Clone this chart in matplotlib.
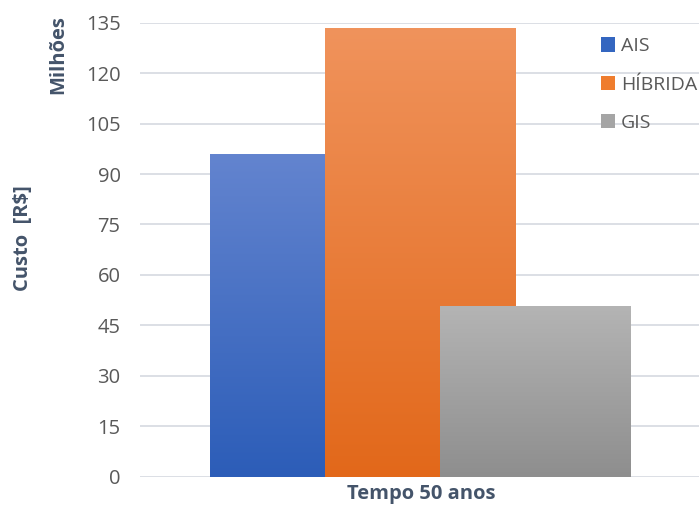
import matplotlib
matplotlib.use("Agg")
import matplotlib.pyplot as plt
import numpy as np
from matplotlib.colors import LinearSegmentedColormap
from matplotlib.patches import Patch

series = ["AIS", "HÍBRIDA", "GIS"]
values = [96.0, 133.3, 50.8]
category = "Tempo 50 anos"
yticks = [0, 15, 30, 45, 60, 75, 90, 105, 120, 135]

top_colors = ["#6384cf", "#f0935c", "#b4b4b4"]
bottom_colors = ["#2c5db8", "#e2681a", "#8e8e8e"]
legend_colors = ["#3466c0", "#ef7d2e", "#a5a5a5"]

plt.rcParams["font.family"] = ["Open Sans", "DejaVu Sans"]
text_color = "#595959"
title_color = "#44546a"

fig = plt.figure(figsize=(6.99, 5.07), dpi=100)
ax = fig.add_axes([140 / 699, 1 - 476.7 / 507, 559 / 699, (476.7 - 22.7) / 507])

width = 1.0
offset = 0.603
xs = [(i - 1) * offset for i in range(len(series))]

for x, v, c_top, c_bot in zip(xs, values, top_colors, bottom_colors):
    bar = ax.bar(x, v, width=width, color="none", edgecolor="none", zorder=2)[0]
    cmap = LinearSegmentedColormap.from_list("g", [c_bot, c_top])
    grad = np.linspace(0, 1, 256).reshape(-1, 1)
    im = ax.imshow(grad, cmap=cmap, origin="lower", aspect="auto",
                   extent=[x - width / 2, x + width / 2, 0, v], zorder=2)
    im.set_clip_path(bar)

ax.set_xlim(-1.474, 1.468)
ax.set_ylim(0, 135)
ax.set_yticks(yticks)
ax.set_xticks([])
ax.grid(axis="y", color="#d9dce3", linewidth=1.3, zorder=0)
ax.set_axisbelow(True)
for s in ax.spines.values():
    s.set_visible(False)
ax.tick_params(axis="y", length=0, pad=14, labelsize=14.5, labelcolor=text_color)

fig.text(421 / 699, 1 - 494 / 507, category, ha="center", va="center",
         fontsize=14.5, fontweight="bold", color=title_color)
fig.text(23 / 699, 1 - 238 / 507, "Custo  [R$]", ha="center", va="center",
         rotation=90, fontsize=14.5, fontweight="bold", color=title_color)
fig.text(58 / 699, 1 - 55 / 507, "Milhões", ha="center", va="center",
         rotation=90, fontsize=14.5, fontweight="bold", color=title_color)

handles = [Patch(facecolor=c, edgecolor="none") for c in legend_colors]
fig.legend(handles, series, loc="upper left", bbox_to_anchor=(591 / 699, 1 - 27.5 / 507),
           frameon=False, fontsize=14, labelcolor=text_color, handlelength=0.75,
           handleheight=0.75, handletextpad=0.3, labelspacing=1.05, borderpad=0)

fig.savefig("out.png", dpi=100)
